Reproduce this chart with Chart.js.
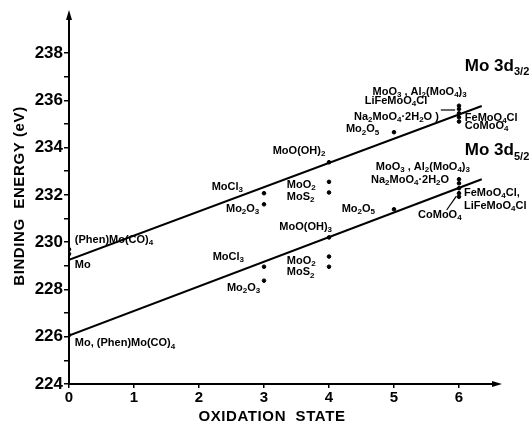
<!DOCTYPE html>
<html>
<head>
<meta charset="utf-8">
<script src="https://cdn.jsdelivr.net/npm/chart.js@4.4.1/dist/chart.umd.min.js"></script>
<style>
  body { margin: 0; background: #fff; }
  #wrap { width: 531px; height: 424px; }
</style>
</head>
<body>
<div id="wrap"><canvas id="xps-chart" width="531" height="424"></canvas></div>
<script>
// Data
// fitted lines (oxidation state -> binding energy)
var lineX = [0, 6.35];
var line32 = [229.25, 235.76];
var line52 = [226.05, 232.66];

// Mo 3d3/2 measured points
var ox32 = [0, 0, 3, 3, 4, 4, 4, 5, 6, 6, 6, 6, 6];
var be32 = [229.7, 229.5, 232.07, 231.6, 232.55, 232.1, 233.38, 234.65, 235.77, 235.63, 235.45, 235.28, 235.1];

// Mo 3d5/2 measured points
var ox52 = [0, 3, 3, 4, 4, 4, 5, 6, 6, 6, 6, 6];
var be52 = [226.07, 228.96, 228.37, 229.39, 228.96, 230.2, 231.39, 232.66, 232.49, 232.28, 232.07, 231.92];

var xTicks = [0, 1, 2, 3, 4, 5, 6];
var yTicks = [224, 225, 226, 227, 228, 229, 230, 231, 232, 233, 234, 235, 236, 237, 238];

// compound labels, "_" marks a subscript
var labelText = [
  '(Phen)Mo(CO)_4', 'Mo', 'MoCl_3', 'Mo_2O_3', 'MoO_2', 'MoS_2', 'MoO(OH)_2', 'Mo_2O_5',
  'MoO_3 , Al_2(MoO_4)_3', 'LiFeMoO_4Cl', 'Na_2MoO_4·2H_2O )', 'FeMoO_4Cl', 'CoMoO_4',
  'Mo, (Phen)Mo(CO)_4', 'MoCl_3', 'Mo_2O_3', 'MoO_2', 'MoS_2', 'MoO(OH)_3', 'Mo_2O_5',
  'MoO_3 , Al_2(MoO_4)_3', 'Na_2MoO_4·2H_2O', 'FeMoO_4Cl,', 'LiFeMoO_4Cl', 'CoMoO_4'
];
var labelX = [0.09, 0.09, 2.195, 2.415, 3.35, 3.35, 3.134, 4.26, 4.67, 4.55, 4.385, 6.09, 6.09,
              0.09, 2.21, 2.43, 3.35, 3.35, 3.235, 4.195, 4.72, 4.646, 6.077, 6.077, 5.37];
var labelY = [230.09, 229.03, 232.35, 231.4, 232.42, 231.92, 233.87, 234.77, 236.36, 235.98, 235.31, 235.26, 234.91,
              225.72, 229.38, 228.05, 229.22, 228.72, 230.63, 231.4, 233.17, 232.63, 232.07, 231.53, 231.15];

// peak names
var peakText = ['Mo 3d_{3/2}', 'Mo 3d_{5/2}'];
var peakX = [6.09, 6.09];
var peakY = [237.45, 233.87];

// leader lines from labels to the Mo(VI) clusters
var leaderX1 = [5.72, 5.81];
var leaderY1 = [235.59, 231.36];
var leaderX2 = [5.94, 5.96];
var leaderY2 = [235.59, 231.95];

function toPoints(xs, ys) {
  return xs.map(function (x, i) { return { x: x, y: ys[i] }; });
}

function parseSub(str) {
  var parts = [];
  var i = 0, buf = '';
  while (i < str.length) {
    var c = str[i];
    if (c === '_') {
      if (buf) { parts.push({ t: buf, sub: false }); buf = ''; }
      if (str[i + 1] === '{') {
        var end = str.indexOf('}', i);
        parts.push({ t: str.substring(i + 2, end), sub: true });
        i = end + 1;
      } else {
        parts.push({ t: str[i + 1], sub: true });
        i += 2;
      }
    } else {
      buf += c;
      i++;
    }
  }
  if (buf) parts.push({ t: buf, sub: false });
  return parts;
}

function drawRich(ctx, str, x, y, size, subSize, subDrop) {
  var parts = parseSub(str);
  var cx = x;
  parts.forEach(function (p) {
    ctx.font = 'bold ' + (p.sub ? subSize : size) + 'px "Liberation Sans", Arial, sans-serif';
    ctx.fillText(p.t, cx, p.sub ? y + subDrop : y);
    cx += ctx.measureText(p.t).width;
  });
}

var annotate = {
  id: 'annotate',
  afterDraw: function (chart) {
    var ctx = chart.ctx;
    var xs = chart.scales.x, ys = chart.scales.y;
    var area = chart.chartArea;
    ctx.save();
    ctx.fillStyle = '#000';
    ctx.strokeStyle = '#000';
    ctx.textBaseline = 'middle';
    ctx.textAlign = 'left';

    labelText.forEach(function (t, i) {
      drawRich(ctx, t, xs.getPixelForValue(labelX[i]), ys.getPixelForValue(labelY[i]), 11, 8, 3);
    });
    peakText.forEach(function (t, i) {
      drawRich(ctx, t, xs.getPixelForValue(peakX[i]), ys.getPixelForValue(peakY[i]), 17, 11, 6);
    });

    ctx.lineWidth = 1.2;
    leaderX1.forEach(function (x, i) {
      ctx.beginPath();
      ctx.moveTo(xs.getPixelForValue(x), ys.getPixelForValue(leaderY1[i]));
      ctx.lineTo(xs.getPixelForValue(leaderX2[i]), ys.getPixelForValue(leaderY2[i]));
      ctx.stroke();
    });

    // axis arrows
    ctx.beginPath();
    ctx.moveTo(area.left, area.top - 4);
    ctx.lineTo(area.left - 3, area.top + 6);
    ctx.lineTo(area.left + 3, area.top + 6);
    ctx.closePath();
    ctx.fill();
    ctx.beginPath();
    ctx.moveTo(area.right + 4, area.bottom);
    ctx.lineTo(area.right - 6, area.bottom - 3);
    ctx.lineTo(area.right - 6, area.bottom + 3);
    ctx.closePath();
    ctx.fill();

    // axis titles
    ctx.font = 'bold 15px "Liberation Sans", Arial, sans-serif';
    ctx.letterSpacing = '0.6px';
    ctx.textAlign = 'center';
    ctx.fillText('OXIDATION  STATE', 272, 417);
    ctx.translate(20, 196);
    ctx.rotate(-Math.PI / 2);
    ctx.fillText('BINDING  ENERGY (eV)', 0, 0);
    ctx.restore();
  }
};

var xpsChart = new Chart(document.getElementById('xps-chart').getContext('2d'), {
  type: 'scatter',
  data: {
    datasets: [
      { data: toPoints(lineX, line32), showLine: true, borderColor: '#000', borderWidth: 2, pointRadius: 0 },
      { data: toPoints(lineX, line52), showLine: true, borderColor: '#000', borderWidth: 2, pointRadius: 0 },
      { data: toPoints(ox32, be32), backgroundColor: '#000', borderColor: '#000', pointRadius: 1.8 },
      { data: toPoints(ox52, be52), backgroundColor: '#000', borderColor: '#000', pointRadius: 1.8 }
    ]
  },
  options: {
    responsive: false,
    animation: false,
    layout: { padding: { left: 0, right: 33, top: 14, bottom: 0 } },
    plugins: { legend: { display: false }, tooltip: { enabled: false } },
    scales: {
      x: {
        type: 'linear',
        min: 0,
        max: 6.6,
        afterFit: function (s) { s.height = 40; },
        afterBuildTicks: function (s) { s.ticks = xTicks.map(function (v) { return { value: v }; }); },
        ticks: { color: '#000', padding: 1, font: { family: '"Liberation Sans", Arial, sans-serif', size: 15, weight: 'bold' } },
        grid: { drawOnChartArea: false, color: '#000', lineWidth: 1.5, tickLength: 4 },
        border: { color: '#000', width: 2 }
      },
      y: {
        min: 224,
        max: 239.65,
        afterFit: function (s) { s.width = 69; },
        afterBuildTicks: function (s) { s.ticks = yTicks.map(function (v) { return { value: v }; }); },
        ticks: {
          color: '#000',
          padding: 1,
          font: { family: '"Liberation Sans", Arial, sans-serif', size: 17, weight: 'bold' },
          callback: function (v) { return v % 2 === 0 ? v : ''; }
        },
        grid: { drawOnChartArea: false, color: '#000', lineWidth: 1.5, tickLength: 5 },
        border: { color: '#000', width: 2 }
      }
    }
  },
  plugins: [annotate]
});
</script>
</body>
</html>
